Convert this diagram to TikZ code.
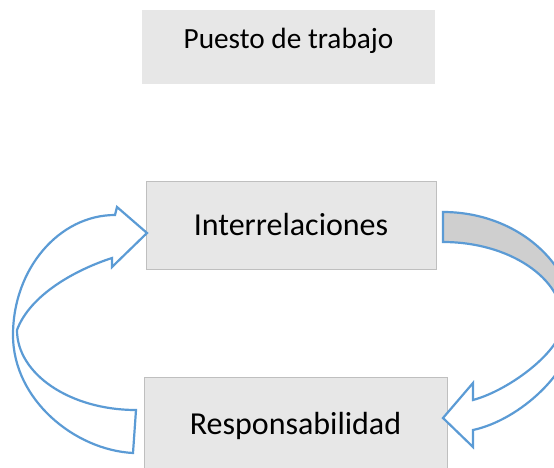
\documentclass[tikz,border=0pt]{standalone}
\usepackage{fontspec}
\setmainfont{Carlito}
\definecolor{boxfill}{HTML}{E7E7E7}
\definecolor{boxline}{HTML}{BFBFBF}
\definecolor{arrblue}{HTML}{5B9BD5}
\definecolor{backgray}{HTML}{CFCFCF}
\tikzset{
  box/.style={rectangle, fill=boxfill, inner sep=0pt, anchor=base, align=center},
  framed/.style={box, draw=boxline, line width=1pt},
  bigarrow/.style={draw=arrblue, line width=2.2pt, line join=miter, fill=white},
}
\begin{document}
\begin{tikzpicture}[x=1pt, y=-1pt]
\useasboundingbox (0,0) rectangle (554,468);
\clip (0,0) rectangle (554,468);
% boxes
\node[box, minimum width=293pt, text height=39pt, text depth=35pt, font=\fontsize{29.3}{34}\selectfont] (puesto) at (288.5,49) {Puesto de trabajo};
\node[framed, minimum width=290pt, text height=54pt, text depth=34pt, font=\fontsize{32}{36}\selectfont] (inter) at (291,235) {Interrelaciones};
\node[framed, minimum width=303pt, text height=57pt, text depth=37pt, font=\fontsize{32}{36}\selectfont] (resp) at (295.5,434) {Responsabilidad};
% left curved arrow (Responsabilidad -> Interrelaciones)
\coordinate (lTailOut) at (133,453);
\coordinate (lTailIn) at (136,410);
\coordinate (lFold) at (17,330);
\coordinate (lBaseIn) at (112,258);
\coordinate (lBarbIn) at (112,267);
\coordinate (lTip) at (147,233);
\coordinate (lBarbOut) at (117,207);
\coordinate (lBaseOut) at (115,215);
\coordinate (lLeft) at (13,335);
\path[bigarrow] (lTailOut) -- (lTailIn)
  .. controls (70,410) and (17,374) .. (lFold)
  .. controls (30,295) and (75,270) .. (lBaseIn)
  -- (lBarbIn) -- (lTip) -- (lBarbOut) -- (lBaseOut)
  .. controls (59,215) and (13,269) .. (lLeft)
  .. controls (13,400) and (75,450) .. (lTailOut) -- cycle;
% right curved arrow (Interrelaciones -> Responsabilidad)
\coordinate (rTailOut) at (443,212);
\coordinate (rTailIn) at (443,242);
\coordinate (rFold) at (563,322);
\coordinate (rBaseIn) at (473,400);
\coordinate (rBarbIn) at (473,383);
\coordinate (rTip) at (443,418);
\coordinate (rBarbOut) at (473,447);
\coordinate (rBaseOut) at (473,430);
\coordinate (rRight) at (575,325);
\path[fill=white] (rTailOut) -- (rTailIn)
  .. controls (509,242) and (563,278) .. (rFold)
  .. controls (563,350) and (510,390) .. (rBaseIn)
  -- (rBarbIn) -- (rTip) -- (rBarbOut) -- (rBaseOut)
  .. controls (520,420) and (575,370) .. (rRight)
  .. controls (575,263) and (516,212) .. (rTailOut) -- cycle;
\path[fill=backgray] (rTailOut) .. controls (516,212) and (575,263) .. (rRight)
  -- (rFold) .. controls (563,278) and (509,242) .. (rTailIn) -- cycle;
\path[bigarrow, fill=none] (rTailOut) -- (rTailIn)
  .. controls (509,242) and (563,278) .. (rFold)
  .. controls (563,350) and (510,390) .. (rBaseIn)
  -- (rBarbIn) -- (rTip) -- (rBarbOut) -- (rBaseOut)
  .. controls (520,420) and (575,370) .. (rRight)
  .. controls (575,263) and (516,212) .. (rTailOut) -- cycle;
\end{tikzpicture}
\end{document}
